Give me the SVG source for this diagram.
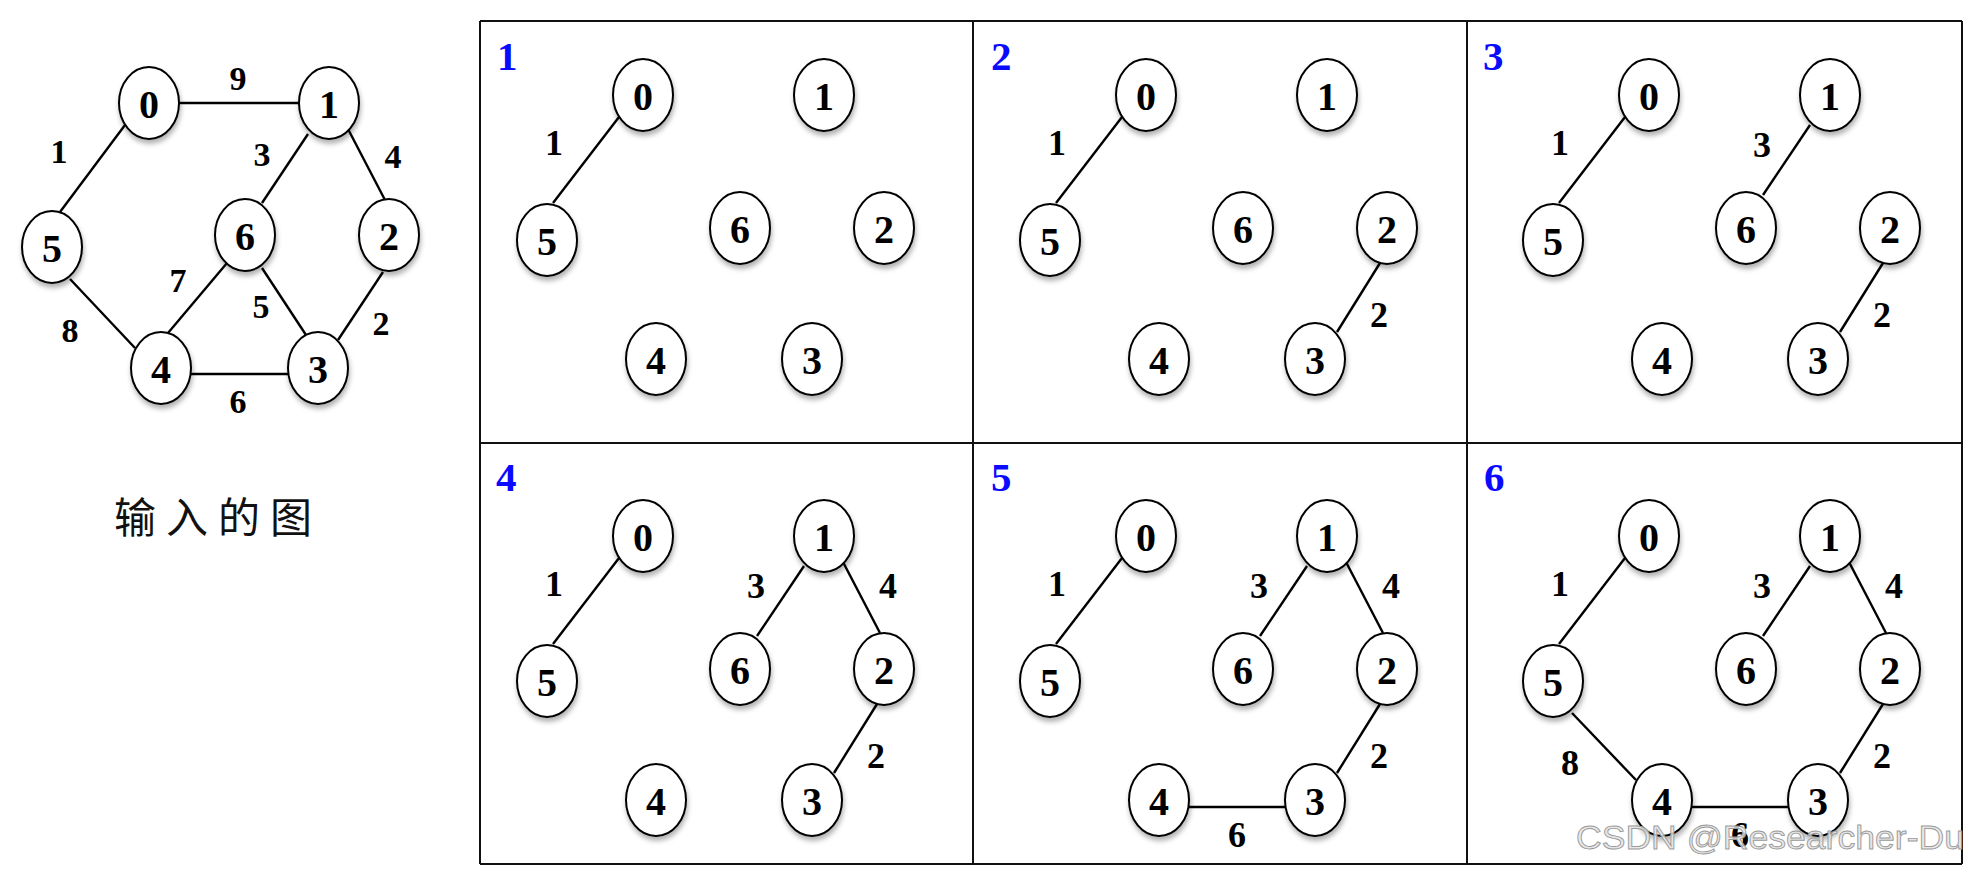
<svg xmlns="http://www.w3.org/2000/svg" width="1971" height="872" viewBox="0 0 1971 872">
<defs>
<filter id="sh" x="-30%" y="-30%" width="160%" height="170%">
<feDropShadow dx="1" dy="4" stdDeviation="2.5" flood-color="#000" flood-opacity="0.3"/>
</filter>
<style>
.n ellipse{fill:#fff;stroke:#000;stroke-width:2;filter:url(#sh)}
.n text{font-family:"Liberation Serif","Times New Roman",serif;font-weight:bold;font-size:40px;text-anchor:middle;fill:#000}
.e line{stroke:#000;stroke-width:2.4}
.lb{font-family:"Liberation Serif","Times New Roman",serif;font-weight:bold;font-size:36px;text-anchor:middle;fill:#000}
.L .lb{font-size:34px}
.step{font-family:"Liberation Serif","Times New Roman",serif;font-weight:bold;font-size:41px;fill:#0a0aff}
.grid line{stroke:#111;stroke-width:2}
</style>
</defs>
<rect width="1971" height="872" fill="#fff"/>

<!-- Input graph -->
<g class="L" id="input-graph">
<g class="e" id="input-edges">
<line x1="179" y1="103" x2="299" y2="103"/>
<line x1="125" y1="125" x2="60" y2="212"/>
<line x1="308" y1="134" x2="262" y2="203"/>
<line x1="348" y1="129" x2="385" y2="200"/>
<line x1="227" y1="263" x2="168" y2="333"/>
<line x1="262" y1="268" x2="306" y2="335"/>
<line x1="383" y1="272" x2="338" y2="340"/>
<line x1="70" y1="279" x2="135" y2="348"/>
<line x1="191" y1="374" x2="288" y2="374"/>
<text class="lb" x="238" y="90">9</text>
<text class="lb" x="59" y="163">1</text>
<text class="lb" x="262" y="166">3</text>
<text class="lb" x="393" y="168">4</text>
<text class="lb" x="178" y="292">7</text>
<text class="lb" x="261" y="318">5</text>
<text class="lb" x="381" y="335">2</text>
<text class="lb" x="70" y="342">8</text>
<text class="lb" x="238" y="413">6</text>
</g>
<g class="n" id="in-n0"><ellipse cx="149" cy="103" rx="30" ry="36"/><text x="149" y="118">0</text></g>
<g class="n" id="in-n1"><ellipse cx="329" cy="103" rx="30" ry="36"/><text x="329" y="118">1</text></g>
<g class="n" id="in-n5"><ellipse cx="52" cy="247" rx="30" ry="36"/><text x="52" y="262">5</text></g>
<g class="n" id="in-n6"><ellipse cx="245" cy="235" rx="30" ry="36"/><text x="245" y="250">6</text></g>
<g class="n" id="in-n2"><ellipse cx="389" cy="235" rx="30" ry="36"/><text x="389" y="250">2</text></g>
<g class="n" id="in-n4"><ellipse cx="161" cy="368" rx="30" ry="36"/><text x="161" y="383">4</text></g>
<g class="n" id="in-n3"><ellipse cx="318" cy="368" rx="30" ry="36"/><text x="318" y="383">3</text></g>
<text x="218" y="533" font-family="'Noto Sans CJK SC',sans-serif" font-size="42" letter-spacing="10" text-anchor="middle" fill="#111">输入的图</text>
</g>

<!-- Grid -->
<g class="grid" id="grid">
<line x1="480" y1="21" x2="1962" y2="21"/>
<line x1="480" y1="443" x2="1962" y2="443"/>
<line x1="480" y1="864" x2="1962" y2="864"/>
<line x1="480" y1="21" x2="480" y2="864"/>
<line x1="973" y1="21" x2="973" y2="864"/>
<line x1="1467" y1="21" x2="1467" y2="864"/>
<line x1="1962" y1="21" x2="1962" y2="864"/>
</g>

<g id="step-labels">
<text class="step" x="497" y="70">1</text>
<text class="step" x="991" y="70">2</text>
<text class="step" x="1483" y="70">3</text>
<text class="step" x="496" y="491">4</text>
<text class="step" x="991" y="491">5</text>
<text class="step" x="1484" y="491">6</text>
</g>

<!-- Step 1 -->
<g id="step1">
<g class="e" id="s1-edges">
<line x1="619" y1="117" x2="553" y2="203"/>
<text class="lb" x="554" y="155">1</text>
</g>
<g class="n" id="s1-n0"><ellipse cx="643" cy="95" rx="30" ry="36"/><text x="643" y="110">0</text></g>
<g class="n" id="s1-n1"><ellipse cx="824" cy="95" rx="30" ry="36"/><text x="824" y="110">1</text></g>
<g class="n" id="s1-n5"><ellipse cx="547" cy="240" rx="30" ry="36"/><text x="547" y="255">5</text></g>
<g class="n" id="s1-n6"><ellipse cx="740" cy="228" rx="30" ry="36"/><text x="740" y="243">6</text></g>
<g class="n" id="s1-n2"><ellipse cx="884" cy="228" rx="30" ry="36"/><text x="884" y="243">2</text></g>
<g class="n" id="s1-n4"><ellipse cx="656" cy="359" rx="30" ry="36"/><text x="656" y="374">4</text></g>
<g class="n" id="s1-n3"><ellipse cx="812" cy="359" rx="30" ry="36"/><text x="812" y="374">3</text></g>
</g>

<!-- Step 2 -->
<g id="step2" transform="translate(503,0)">
<g class="e" id="s2-edges">
<line x1="619" y1="117" x2="553" y2="203"/>
<line x1="877" y1="263" x2="834" y2="332"/>
<text class="lb" x="554" y="155">1</text>
<text class="lb" x="876" y="327">2</text>
</g>
<g class="n" id="s2-n0"><ellipse cx="643" cy="95" rx="30" ry="36"/><text x="643" y="110">0</text></g>
<g class="n" id="s2-n1"><ellipse cx="824" cy="95" rx="30" ry="36"/><text x="824" y="110">1</text></g>
<g class="n" id="s2-n5"><ellipse cx="547" cy="240" rx="30" ry="36"/><text x="547" y="255">5</text></g>
<g class="n" id="s2-n6"><ellipse cx="740" cy="228" rx="30" ry="36"/><text x="740" y="243">6</text></g>
<g class="n" id="s2-n2"><ellipse cx="884" cy="228" rx="30" ry="36"/><text x="884" y="243">2</text></g>
<g class="n" id="s2-n4"><ellipse cx="656" cy="359" rx="30" ry="36"/><text x="656" y="374">4</text></g>
<g class="n" id="s2-n3"><ellipse cx="812" cy="359" rx="30" ry="36"/><text x="812" y="374">3</text></g>
</g>

<!-- Step 3 -->
<g id="step3" transform="translate(1006,0)">
<g class="e" id="s3-edges">
<line x1="619" y1="117" x2="553" y2="203"/>
<line x1="877" y1="263" x2="834" y2="332"/>
<line x1="804" y1="125" x2="757" y2="195"/>
<text class="lb" x="554" y="155">1</text>
<text class="lb" x="876" y="327">2</text>
<text class="lb" x="756" y="157">3</text>
</g>
<g class="n" id="s3-n0"><ellipse cx="643" cy="95" rx="30" ry="36"/><text x="643" y="110">0</text></g>
<g class="n" id="s3-n1"><ellipse cx="824" cy="95" rx="30" ry="36"/><text x="824" y="110">1</text></g>
<g class="n" id="s3-n5"><ellipse cx="547" cy="240" rx="30" ry="36"/><text x="547" y="255">5</text></g>
<g class="n" id="s3-n6"><ellipse cx="740" cy="228" rx="30" ry="36"/><text x="740" y="243">6</text></g>
<g class="n" id="s3-n2"><ellipse cx="884" cy="228" rx="30" ry="36"/><text x="884" y="243">2</text></g>
<g class="n" id="s3-n4"><ellipse cx="656" cy="359" rx="30" ry="36"/><text x="656" y="374">4</text></g>
<g class="n" id="s3-n3"><ellipse cx="812" cy="359" rx="30" ry="36"/><text x="812" y="374">3</text></g>
</g>

<!-- Step 4 -->
<g id="step4" transform="translate(0,441)">
<g class="e" id="s4-edges">
<line x1="619" y1="117" x2="553" y2="203"/>
<line x1="877" y1="263" x2="834" y2="332"/>
<line x1="804" y1="125" x2="757" y2="195"/>
<line x1="843" y1="121" x2="880" y2="192"/>
<text class="lb" x="554" y="155">1</text>
<text class="lb" x="876" y="327">2</text>
<text class="lb" x="756" y="157">3</text>
<text class="lb" x="888" y="157">4</text>
</g>
<g class="n" id="s4-n0"><ellipse cx="643" cy="95" rx="30" ry="36"/><text x="643" y="110">0</text></g>
<g class="n" id="s4-n1"><ellipse cx="824" cy="95" rx="30" ry="36"/><text x="824" y="110">1</text></g>
<g class="n" id="s4-n5"><ellipse cx="547" cy="240" rx="30" ry="36"/><text x="547" y="255">5</text></g>
<g class="n" id="s4-n6"><ellipse cx="740" cy="228" rx="30" ry="36"/><text x="740" y="243">6</text></g>
<g class="n" id="s4-n2"><ellipse cx="884" cy="228" rx="30" ry="36"/><text x="884" y="243">2</text></g>
<g class="n" id="s4-n4"><ellipse cx="656" cy="359" rx="30" ry="36"/><text x="656" y="374">4</text></g>
<g class="n" id="s4-n3"><ellipse cx="812" cy="359" rx="30" ry="36"/><text x="812" y="374">3</text></g>
</g>

<!-- Step 5 -->
<g id="step5" transform="translate(503,441)">
<g class="e" id="s5-edges">
<line x1="619" y1="117" x2="553" y2="203"/>
<line x1="877" y1="263" x2="834" y2="332"/>
<line x1="804" y1="125" x2="757" y2="195"/>
<line x1="843" y1="121" x2="880" y2="192"/>
<line x1="686" y1="366" x2="782" y2="366"/>
<text class="lb" x="554" y="155">1</text>
<text class="lb" x="876" y="327">2</text>
<text class="lb" x="756" y="157">3</text>
<text class="lb" x="888" y="157">4</text>
<text class="lb" x="734" y="406">6</text>
</g>
<g class="n" id="s5-n0"><ellipse cx="643" cy="95" rx="30" ry="36"/><text x="643" y="110">0</text></g>
<g class="n" id="s5-n1"><ellipse cx="824" cy="95" rx="30" ry="36"/><text x="824" y="110">1</text></g>
<g class="n" id="s5-n5"><ellipse cx="547" cy="240" rx="30" ry="36"/><text x="547" y="255">5</text></g>
<g class="n" id="s5-n6"><ellipse cx="740" cy="228" rx="30" ry="36"/><text x="740" y="243">6</text></g>
<g class="n" id="s5-n2"><ellipse cx="884" cy="228" rx="30" ry="36"/><text x="884" y="243">2</text></g>
<g class="n" id="s5-n4"><ellipse cx="656" cy="359" rx="30" ry="36"/><text x="656" y="374">4</text></g>
<g class="n" id="s5-n3"><ellipse cx="812" cy="359" rx="30" ry="36"/><text x="812" y="374">3</text></g>
</g>

<!-- Step 6 -->
<g id="step6" transform="translate(1006,441)">
<g class="e" id="s6-edges">
<line x1="619" y1="117" x2="553" y2="203"/>
<line x1="877" y1="263" x2="834" y2="332"/>
<line x1="804" y1="125" x2="757" y2="195"/>
<line x1="843" y1="121" x2="880" y2="192"/>
<line x1="686" y1="366" x2="782" y2="366"/>
<line x1="566" y1="272" x2="630" y2="339"/>
<text class="lb" x="554" y="155">1</text>
<text class="lb" x="876" y="327">2</text>
<text class="lb" x="756" y="157">3</text>
<text class="lb" x="888" y="157">4</text>
<text class="lb" x="734" y="406">6</text>
<text class="lb" x="564" y="334">8</text>
</g>
<g class="n" id="s6-n0"><ellipse cx="643" cy="95" rx="30" ry="36"/><text x="643" y="110">0</text></g>
<g class="n" id="s6-n1"><ellipse cx="824" cy="95" rx="30" ry="36"/><text x="824" y="110">1</text></g>
<g class="n" id="s6-n5"><ellipse cx="547" cy="240" rx="30" ry="36"/><text x="547" y="255">5</text></g>
<g class="n" id="s6-n6"><ellipse cx="740" cy="228" rx="30" ry="36"/><text x="740" y="243">6</text></g>
<g class="n" id="s6-n2"><ellipse cx="884" cy="228" rx="30" ry="36"/><text x="884" y="243">2</text></g>
<g class="n" id="s6-n4"><ellipse cx="656" cy="359" rx="30" ry="36"/><text x="656" y="374">4</text></g>
<g class="n" id="s6-n3"><ellipse cx="812" cy="359" rx="30" ry="36"/><text x="812" y="374">3</text></g>
</g>

<text id="watermark" x="1576" y="849" font-family="'Liberation Sans',Arial,sans-serif" font-size="34" textLength="388" lengthAdjust="spacingAndGlyphs" fill="#e4e4e4" fill-opacity="0.85" stroke="#9a9a9a" stroke-width="0.9">CSDN @Researcher-Du</text>
</svg>
